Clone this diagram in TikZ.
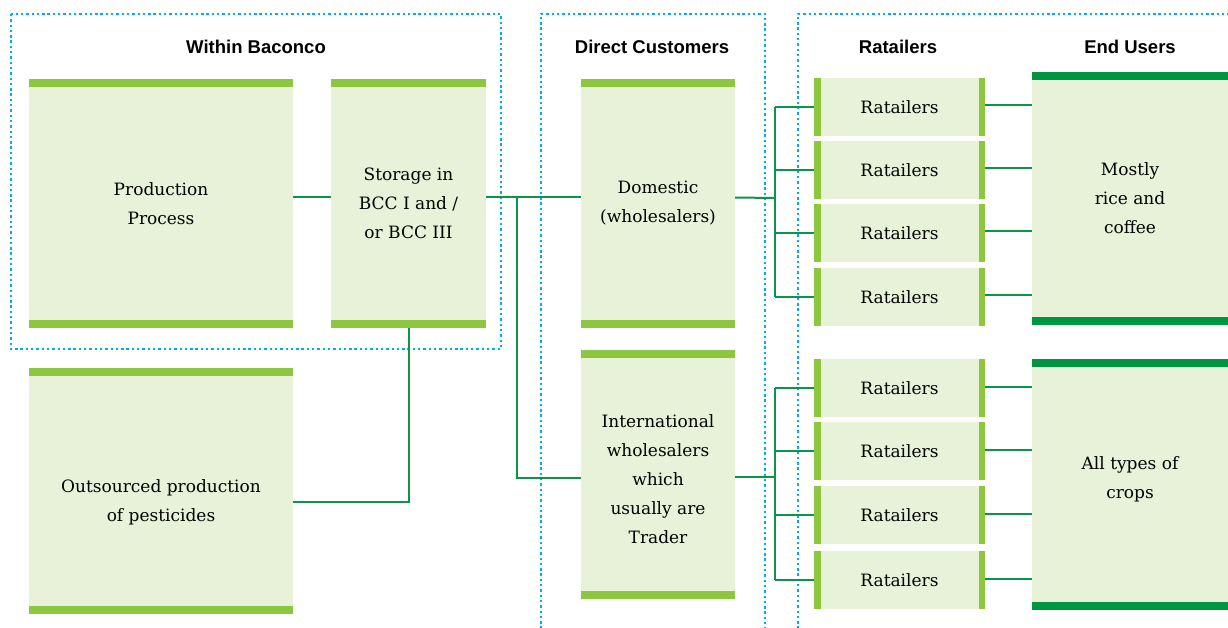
\documentclass[tikz,border=0pt]{standalone}
\usepackage{fontspec}
\setmainfont{DejaVu Serif}
\newfontfamily\headfont{Liberation Sans}
\usetikzlibrary{positioning}

\definecolor{paleleaf}{HTML}{E8F2D8}
\definecolor{leaf}{HTML}{8DC63F}
\definecolor{forest}{HTML}{00963F}
\definecolor{wire}{HTML}{0A9548}
\definecolor{dotblue}{HTML}{00AEEF}

\begin{document}
\begin{tikzpicture}[
    x=1pt, y=-1pt,
    stage/.style={fill=paleleaf, inner sep=2pt, align=center,
      font=\fontsize{17}{29}\selectfont,
      path picture={
        \fill[#1] (path picture bounding box.north west) rectangle ([yshift=-8pt]path picture bounding box.north east);
        \fill[#1] (path picture bounding box.south west) rectangle ([yshift=8pt]path picture bounding box.south east);}},
    stage/.default=leaf,
    retail/.style={fill=paleleaf, minimum width=171pt, minimum height=58pt, inner sep=2pt,
      font=\fontsize{17}{29}\selectfont,
      path picture={
        \fill[leaf] (path picture bounding box.north west) rectangle ([xshift=6.5pt]path picture bounding box.south west);
        \fill[leaf] (path picture bounding box.north east) rectangle ([xshift=-6.5pt]path picture bounding box.south east);}},
    heading/.style={font=\headfont\bfseries\fontsize{18.5}{22}\selectfont},
    zone/.style={dotblue, line width=2.4pt, dash pattern=on 2.4pt off 2.9pt},
    link/.style={wire, line width=2pt}
]
  \useasboundingbox (0,0) rectangle (1228,628);
  \clip (0,0) rectangle (1228,628);

  % dotted zones
  \draw[zone] (11,14) rectangle (501,349);
  \draw[zone] (541,650) -- (541,14) -- (765,14) -- (765,650);
  \draw[zone] (798,650) -- (798,14) -- (1250,14);

  % headings
  \node[heading] (hbac) at (256,47) {Within Baconco};
  \node[heading] (hdir) at (652,47) {Direct Customers};
  \node[heading] (hret) at (898,47) {Ratailers};
  \node[heading] (hend) at (1130,47) {End Users};

  % within Baconco
  \node[stage, minimum width=264pt, minimum height=249pt] (prod) at (161,203.5) {Production\\Process};
  \node[stage, minimum width=155pt, minimum height=249pt] (store) at (408.5,203.5) {Storage in\\BCC I and /\\or BCC III};
  \node[stage, minimum width=264pt, minimum height=246pt] (outs) at (161,491) {\rule{0pt}{35pt}Outsourced production\\of pesticides};

  % direct customers
  \node[stage, minimum width=154pt, minimum height=249pt] (dom) at (658,203.5) {Domestic\\(wholesalers)};
  \node[stage, minimum width=154pt, minimum height=249pt] (intl) at (658,474) {\rule{0pt}{23pt}International\\wholesalers\\which\\usually are\\Trader};

  % retailers
  \foreach \i/\y in {1/107,2/170,3/233,4/297}
    \node[retail] (rt\i) at (899.5,\y) {Ratailers};
  \foreach \i/\y in {1/388,2/451,3/515,4/580}
    \node[retail] (rb\i) at (899.5,\y) {Ratailers};

  % end users
  \node[stage=forest, minimum width=196pt, minimum height=252pt] (eut) at (1130,198.5) {Mostly\\rice and\\coffee};
  \node[stage=forest, minimum width=196pt, minimum height=251pt] (eub) at (1130,484.5) {All types of\\crops\rule[-14pt]{0pt}{1pt}};

  % connectors
  \coordinate (split) at (517,198);
  \coordinate (hubt) at (775,198);
  \coordinate (hubb) at (775,477);

  \draw[link] ([yshift=6pt]prod.east) -- ([yshift=6pt]store.west);
  \draw[link] ([yshift=6pt]store.east) -- ([yshift=6pt]dom.west);
  \draw[link] (split) |- ([yshift=-4pt]intl.west);
  \draw[link] (store.south) |- ([yshift=-11pt]outs.east);

  \draw[link] ([yshift=6pt]dom.east) -- (hubt);
  \draw[link] (hubt |- rt1.west) -- (hubt |- rt4.west);
  \draw[link] ([yshift=-3pt]intl.east) -- (hubb);
  \draw[link] (hubb |- rb1.west) -- (hubb |- rb4.west);

  \foreach \i in {1,...,4} {
    \draw[link] (hubt |- rt\i.west) -- (rt\i.west);
    \draw[link] ([yshift=2pt]rt\i.east) -- ([yshift=2pt]eut.west |- rt\i.east);
    \draw[link] (hubb |- rb\i.west) -- (rb\i.west);
    \draw[link] ([yshift=1pt]rb\i.east) -- ([yshift=1pt]eub.west |- rb\i.east);
  }
\end{tikzpicture}
\end{document}
